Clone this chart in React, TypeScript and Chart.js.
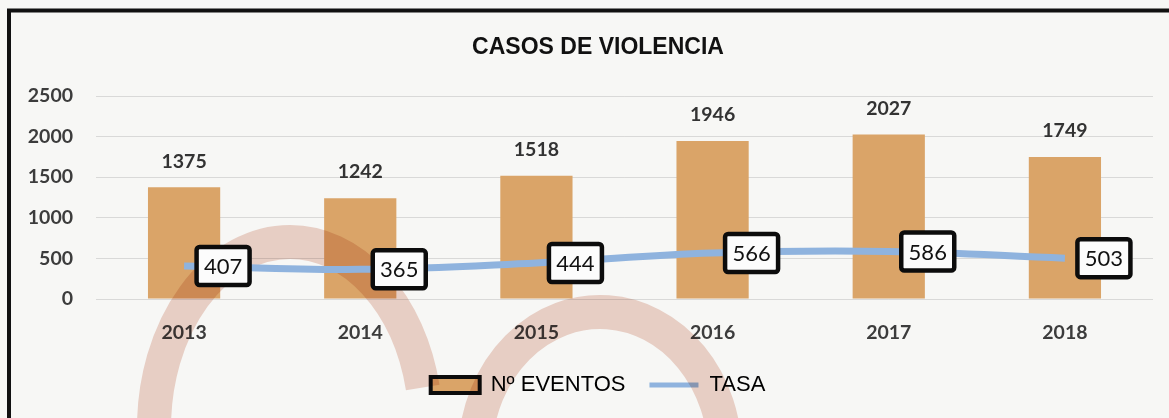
import React, { useEffect, useRef } from 'react';
import { Chart, registerables } from 'chart.js';

Chart.register(...registerables);

const years = ['2013', '2014', '2015', '2016', '2017', '2018'];
const eventos = [1375, 1242, 1518, 1946, 2027, 1749];
const tasa = [407, 365, 444, 566, 586, 503];
const yMin = 0;
const yMax = 2500;
const yStep = 500;
const titleText = 'CASOS DE VIOLENCIA';
const seriesNames = ['Nº EVENTOS', 'TASA'];

const BAR = 'rgb(218,164,104)';
const LINE = 'rgb(143,179,222)';
const PINK = 'rgb(239,213,204)';
const TICK = '#3c3c3c';

const backgroundPlugin = {
  id: 'bgBorder',
  beforeDraw(chart: any) {
    const { ctx, width, height } = chart;
    ctx.save();
    ctx.fillStyle = '#f7f7f5';
    ctx.fillRect(0, 0, width, height);
    ctx.strokeStyle = '#111';
    ctx.lineWidth = 4;
    ctx.beginPath();
    ctx.moveTo(9, height + 5);
    ctx.lineTo(9, 10.5);
    ctx.lineTo(width + 5, 10.5);
    ctx.stroke();
    ctx.restore();
  },
};

// centre the title and legend on the same axis as the reference
const shiftPlugin = {
  id: 'shiftBoxes',
  afterLayout(chart: any) {
    const dx = 11.5;
    [chart.titleBlock, chart.legend].forEach((b: any) => {
      if (b) {
        b.left += dx;
        b.right += dx;
      }
    });
  },
};

const watermarkPlugin = {
  id: 'watermark',
  afterDatasetDraw(chart: any, args: any) {
    if (args.index !== 0) return;
    const { ctx } = chart;
    ctx.save();
    ctx.globalCompositeOperation = 'multiply';
    ctx.strokeStyle = PINK;
    ctx.lineWidth = 34;
    ctx.lineCap = 'butt';
    ctx.beginPath();
    ctx.ellipse(290, 428, 136, 186, 0, Math.PI, Math.PI * 1.93);
    ctx.stroke();
    ctx.beginPath();
    ctx.ellipse(600, 455, 125, 143, 0, Math.PI * 1.02, Math.PI * 2);
    ctx.stroke();
    ctx.restore();
  },
};

const labelsPlugin = {
  id: 'valueLabels',
  afterDatasetsDraw(chart: any) {
    const { ctx } = chart;
    ctx.save();
    ctx.textAlign = 'center';
    ctx.textBaseline = 'middle';
    const barMeta = chart.getDatasetMeta(0);
    ctx.font = 'bold 19.5px Lato';
    ctx.fillStyle = '#333';
    barMeta.data.forEach((el: any, i: number) => {
      ctx.fillText(String(eventos[i]), el.x, el.y - 26);
    });
    const lineMeta = chart.getDatasetMeta(1);
    lineMeta.data.forEach((pt: any, i: number) => {
      const cx = pt.x + 39;
      const cy = pt.y;
      const w = 53;
      const h = 38;
      ctx.beginPath();
      ctx.roundRect(cx - w / 2, cy - h / 2, w, h, 3);
      ctx.fillStyle = '#fcfcfc';
      ctx.fill();
      ctx.lineWidth = 4.5;
      ctx.strokeStyle = '#0c0c0c';
      ctx.stroke();
      ctx.fillStyle = '#111';
      ctx.font = '22px Lato';
      ctx.fillText(String(tasa[i]), cx, cy + 1);
    });
    ctx.restore();
  },
};

export default function App() {
  const ref = useRef<HTMLCanvasElement>(null);
  useEffect(() => {
    const canvas = ref.current as HTMLCanvasElement;
    const chart = new Chart(canvas, {
      type: 'bar',
      data: {
        labels: years,
        datasets: [
          {
            type: 'bar',
            label: seriesNames[0],
            data: eventos,
            backgroundColor: BAR,
            borderWidth: 0,
            order: 1,
            categoryPercentage: 1,
            barPercentage: 0.41,
          } as any,
          {
            type: 'line',
            label: seriesNames[1],
            data: tasa,
            borderColor: LINE,
            backgroundColor: LINE,
            borderWidth: 7,
            tension: 0.4,
            pointRadius: 0,
            fill: false,
            order: 0,
          } as any,
        ],
      },
      options: {
        responsive: false,
        animation: false,
        devicePixelRatio: 1,
        layout: { padding: { left: 20, right: 16, top: 0, bottom: 12 } },
        plugins: {
          title: {
            display: true,
            text: titleText,
            color: '#111',
            font: { family: 'Liberation Sans', size: 23, weight: 'bold' },
            padding: { top: 34, bottom: 34.4 },
          },
          legend: {
            position: 'bottom',
            labels: {
              usePointStyle: true,
              pointStyleWidth: 49,
              boxHeight: 16,
              padding: 24,
              color: '#333',
              font: { family: 'Liberation Sans', size: 22 },
              generateLabels: () => [
                {
                  text: seriesNames[0],
                  fillStyle: BAR,
                  strokeStyle: '#0c0c0c',
                  lineWidth: 4,
                  pointStyle: 'rect',
                  hidden: false,
                  datasetIndex: 0,
                },
                {
                  text: seriesNames[1],
                  fillStyle: LINE,
                  strokeStyle: LINE,
                  lineWidth: 5,
                  pointStyle: 'line',
                  hidden: false,
                  datasetIndex: 1,
                },
              ],
            },
          },
          tooltip: { enabled: false },
        },
        scales: {
          x: {
            grid: { display: false, drawTicks: false },
            border: { display: false },
            ticks: {
              padding: 22,
              color: TICK,
              font: { family: 'Lato', size: 19.5, weight: 'bold' },
            },
            afterFit: (s: any) => {
              s.height = 51;
            },
          },
          y: {
            min: yMin,
            max: yMax,
            ticks: {
              stepSize: yStep,
              padding: 23,
              color: TICK,
              font: { family: 'Lato', size: 19.5, weight: 'bold' },
              callback: (v: any) => String(v),
            },
            grid: { color: 'rgba(150,150,150,0.3)', drawTicks: false },
            border: { display: false },
            afterFit: (s: any) => {
              s.width = 76;
            },
          },
        },
      } as any,
      plugins: [backgroundPlugin, shiftPlugin, watermarkPlugin, labelsPlugin],
    });
    return () => chart.destroy();
  }, []);
  return (
    <div style={{ position: 'fixed', left: 0, top: 0, width: 1169, height: 418 }}>
      <canvas ref={ref} width={1169} height={418} style={{ display: 'block' }} />
    </div>
  );
}
